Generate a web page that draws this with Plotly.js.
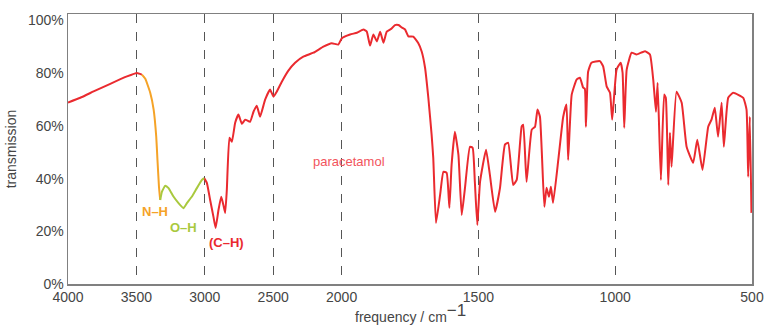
<!DOCTYPE html>
<html>
<head>
<meta charset="utf-8">
<script src="https://cdn.plot.ly/plotly-3.0.1.min.js"></script>
<style>html,body{margin:0;padding:0;background:#fff;}#chart{width:772px;height:329px;}</style>
</head>
<body>
<div id="chart"></div>
<script>
// frequency (cm-1) and transmission (%)
const redA_f = [4000, 3910, 3813, 3691, 3569, 3496, 3460];
const redA_T = [68.9, 70.7, 73.1, 76.0, 78.8, 80.1, 79.5];

const nh_f = [3460, 3435, 3399, 3374, 3355, 3346, 3335, 3326];
const nh_T = [79.5, 77.9, 72.6, 66.2, 55.9, 47.1, 36.9, 31.9];

const oh_f = [3326, 3313, 3289, 3265, 3229, 3192, 3156, 3131, 3094, 3058, 3021, 3005];
const oh_T = [31.9, 35.1, 37.3, 36.4, 33.2, 30.7, 28.8, 30.7, 33.2, 36.4, 39.5, 40.2];

const redB_f = [3005, 2985, 2961, 2937, 2921, 2900, 2880, 2864, 2851, 2839, 2820, 2802, 2778, 2754, 2729, 2705, 2669, 2644, 2620, 2596, 2559, 2523, 2498, 2474, 2437, 2389, 2340, 2280, 2206, 2133, 2072, 2024, 1999, 1969, 1944, 1920, 1908, 1896, 1884, 1871, 1859, 1847, 1835, 1817, 1805, 1792, 1779, 1768, 1756, 1738, 1720, 1707, 1695, 1683, 1671, 1665, 1655, 1640, 1628, 1616, 1606, 1598, 1586, 1573, 1561, 1549, 1531, 1521, 1513, 1504, 1494, 1472, 1458, 1439, 1421, 1403, 1391, 1373, 1360, 1342, 1336, 1324, 1305, 1293, 1284, 1275, 1259, 1251, 1242, 1235, 1227, 1208, 1190, 1178, 1172, 1159, 1141, 1129, 1117, 1111, 1107, 1099, 1087, 1056, 1044, 1031, 1019, 1011, 995, 980, 973, 967, 958, 940, 922, 891, 873, 861, 851, 845, 833, 821, 815, 806, 800, 794, 776, 757, 739, 715, 700, 681, 660, 648, 636, 624, 611, 603, 587, 569, 532, 520, 514, 508, 502];
const redB_T = [40.2, 38.4, 31.9, 25.6, 21.3, 28.1, 33.1, 30.0, 27.0, 35.7, 55.5, 54.0, 61.2, 64.3, 60.8, 62.4, 61.6, 65.4, 67.7, 63.5, 70.0, 73.8, 71.1, 73.0, 76.8, 81.0, 84.0, 86.3, 87.8, 90.1, 91.4, 90.9, 93.3, 94.7, 95.4, 96.6, 95.8, 90.5, 94.7, 92.1, 95.8, 91.6, 95.8, 97.0, 98.3, 98.3, 97.3, 96.6, 94.0, 93.9, 91.5, 88.2, 82.1, 70.7, 56.7, 47.9, 23.2, 33.8, 42.6, 42.2, 28.9, 45.2, 57.8, 49.0, 26.2, 36.5, 52.1, 51.7, 38.8, 22.4, 38.8, 51.0, 41.4, 27.4, 36.5, 52.9, 53.6, 37.6, 39.5, 59.7, 60.5, 38.8, 58.6, 59.7, 66.2, 63.5, 29.3, 36.5, 33.1, 36.9, 30.8, 47.1, 63.5, 68.1, 47.1, 71.9, 77.6, 78.3, 74.5, 74.1, 59.7, 80.6, 84.0, 84.6, 82.6, 74.9, 72.6, 62.4, 81.4, 84.0, 80.2, 59.3, 81.4, 87.8, 87.1, 88.4, 87.1, 77.6, 65.4, 76.4, 39.5, 71.9, 70.7, 37.6, 57.4, 44.5, 73.0, 68.8, 52.1, 46.0, 54.8, 43.3, 59.7, 62.4, 66.9, 55.9, 68.8, 52.1, 70.7, 72.6, 70.7, 66.2, 40.7, 63.5, 27.0];

const tickFreqs = [4000, 3500, 3000, 2500, 2000, 1500, 1000, 500];
const yTicks = [0, 20, 40, 60, 80, 100];
const yTickText = ['0%', '20%', '40%', '60%', '80%', '100%'];

// split-scale frequency axis: 4000-2000 compressed by 2 relative to 2000-500
function pos(f) { return f >= 2000 ? (4000 - f) / 2 : 1000 + (2000 - f); }

const RED = '#ea2a2f', ORANGE = '#f5a327', GREEN = '#a9c93e';
function tr(fs, ts, color) {
  return {x: fs.map(pos), y: ts, type: 'scatter', mode: 'lines',
    line: {color: color, width: 2, shape: 'spline', smoothing: 0.4}, hoverinfo: 'skip', showlegend: false};
}

const data = [tr(redA_f, redA_T, RED), tr(redB_f, redB_T, RED), tr(nh_f, nh_T, ORANGE), tr(oh_f, oh_T, GREEN)];

const labelFont = {family: 'Liberation Sans, Arial, sans-serif', size: 13};
const layout = {
  width: 772, height: 329,
  margin: {l: 68, r: 20, t: 14, b: 45},
  paper_bgcolor: '#fff', plot_bgcolor: '#fff',
  font: {family: 'Liberation Sans, Arial, sans-serif', size: 14, color: '#454545'},
  xaxis: {
    range: [0, 2500], tickmode: 'array', tickvals: tickFreqs.map(pos), ticktext: tickFreqs.map(String),
    showgrid: true, gridcolor: '#555', griddash: 'dash', gridwidth: 1,
    showline: true, linecolor: '#808080', linewidth: 1.5, mirror: true,
    ticks: '', zeroline: false, fixedrange: true
  },
  yaxis: {
    range: [0, 102.5], tickmode: 'array', tickvals: yTicks, ticktext: yTickText,
    showgrid: false, showline: true, linecolor: '#808080', linewidth: 1.5, mirror: true,
    ticks: '', zeroline: false, fixedrange: true,
    title: {text: 'transmission', font: {size: 14, color: '#454545'}, standoff: 8}
  },
  annotations: [
    {xref: 'paper', yref: 'paper', x: 0.5, y: -0.108, yanchor: 'middle', showarrow: false,
     text: 'frequency / cm<sup><span style="font-size:17px">−1</span></sup>', font: {size: 14, color: '#454545'}},
    {x: pos(3365), y: 27.4, text: '<b>N–H</b>', showarrow: false, font: Object.assign({color: ORANGE}, labelFont)},
    {x: pos(3157), y: 21.3, text: '<b>O–H</b>', showarrow: false, font: Object.assign({color: GREEN}, labelFont)},
    {x: pos(2845), y: 15.6, text: '<b>(C–H)</b>', showarrow: false, font: Object.assign({color: RED}, labelFont)},
    {x: pos(1973), y: 46.4, text: 'paracetamol', showarrow: false, font: {family: 'Liberation Sans, Arial, sans-serif', size: 13, color: '#f2545c'}}
  ]
};

Plotly.newPlot('chart', data, layout, {displayModeBar: false, staticPlot: true});
</script>
</body>
</html>
